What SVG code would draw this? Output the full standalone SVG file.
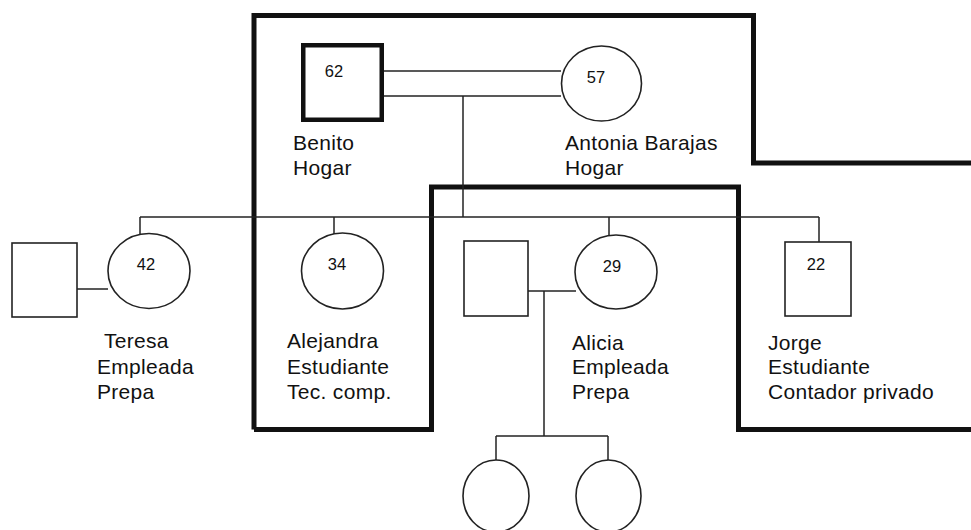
<svg xmlns="http://www.w3.org/2000/svg" width="971" height="530" viewBox="0 0 971 530">
<style>
.bd{fill:none;stroke:#111;stroke-width:5;stroke-linejoin:miter}
.ln{fill:none;stroke:#222;stroke-width:1.5}
.sh{fill:#fff;stroke:#222;stroke-width:1.6}
.thick{fill:#fff;stroke:#111;stroke-width:4.5}
.num{font-family:"Liberation Sans",Arial,sans-serif;font-size:16.5px;fill:#111;text-anchor:middle}
.lb{font-family:"Liberation Sans",Arial,sans-serif;font-size:21px;letter-spacing:0.3px;fill:#111}
</style>
<rect width="971" height="530" fill="#fff"/>
<g id="boundaries">
<path class="bd" d="M254,429.5 L254,15.5 L753.5,15.5 L753.5,163 L971,163"/>
<path class="bd" d="M254,429.5 L431.5,429.5 L431.5,187 L738.5,187 L738.5,429.5 L971,429.5"/>
</g>
<g id="connectors">
<line class="ln" x1="384" y1="71" x2="561" y2="71"/>
<line class="ln" x1="384" y1="96" x2="561" y2="96"/>
<line class="ln" x1="463" y1="96" x2="463" y2="217"/>
<line class="ln" x1="140" y1="217" x2="819" y2="217"/>
<line class="ln" x1="140" y1="217" x2="140" y2="234"/>
<line class="ln" x1="334" y1="217" x2="334" y2="234"/>
<line class="ln" x1="609" y1="217" x2="609" y2="236"/>
<line class="ln" x1="819" y1="217" x2="819" y2="242"/>
<line class="ln" x1="77" y1="289" x2="108" y2="289"/>
<line class="ln" x1="528" y1="291" x2="576" y2="291"/>
<line class="ln" x1="544" y1="291" x2="544" y2="436"/>
<line class="ln" x1="496" y1="436" x2="608" y2="436"/>
<line class="ln" x1="496" y1="436" x2="496" y2="460"/>
<line class="ln" x1="608" y1="436" x2="608" y2="460"/>
</g>
<g id="benito">
<rect class="thick" x="303.25" y="45.25" width="78.5" height="74.5"/>
<text class="num" x="334" y="77">62</text>
<text class="lb" x="293" y="150">Benito</text>
<text class="lb" x="293" y="175">Hogar</text>
</g>
<g id="antonia">
<ellipse class="sh" cx="601.5" cy="83.5" rx="40" ry="37.5"/>
<text class="num" x="596" y="83">57</text>
<text class="lb" x="565" y="150">Antonia Barajas</text>
<text class="lb" x="565" y="175">Hogar</text>
</g>
<g id="teresa-spouse">
<rect class="sh" x="12" y="243" width="65" height="74"/>
</g>
<g id="teresa">
<ellipse class="sh" cx="149" cy="271" rx="41" ry="37.5"/>
<text class="num" x="146" y="270">42</text>
<text class="lb" x="104" y="348">Teresa</text>
<text class="lb" x="97" y="374">Empleada</text>
<text class="lb" x="97" y="399">Prepa</text>
</g>
<g id="alejandra">
<ellipse class="sh" cx="342.5" cy="271" rx="41" ry="38"/>
<text class="num" x="337" y="270">34</text>
<text class="lb" x="287" y="348">Alejandra</text>
<text class="lb" x="287" y="374">Estudiante</text>
<text class="lb" x="287" y="399">Tec. comp.</text>
</g>
<g id="alicia-spouse">
<rect class="sh" x="464" y="241" width="64" height="75"/>
</g>
<g id="alicia">
<ellipse class="sh" cx="616" cy="272" rx="41" ry="37"/>
<text class="num" x="612" y="272">29</text>
<text class="lb" x="572" y="350">Alicia</text>
<text class="lb" x="572" y="374">Empleada</text>
<text class="lb" x="572" y="399">Prepa</text>
</g>
<g id="jorge">
<rect class="sh" x="785" y="242" width="66" height="74"/>
<text class="num" x="816" y="270">22</text>
<text class="lb" x="768" y="350">Jorge</text>
<text class="lb" x="768" y="374">Estudiante</text>
<text class="lb" x="768" y="399">Contador privado</text>
</g>
<g id="child1">
<ellipse class="sh" cx="496" cy="496" rx="33" ry="36"/>
</g>
<g id="child2">
<ellipse class="sh" cx="608.5" cy="496" rx="32.5" ry="36"/>
</g>
</svg>
